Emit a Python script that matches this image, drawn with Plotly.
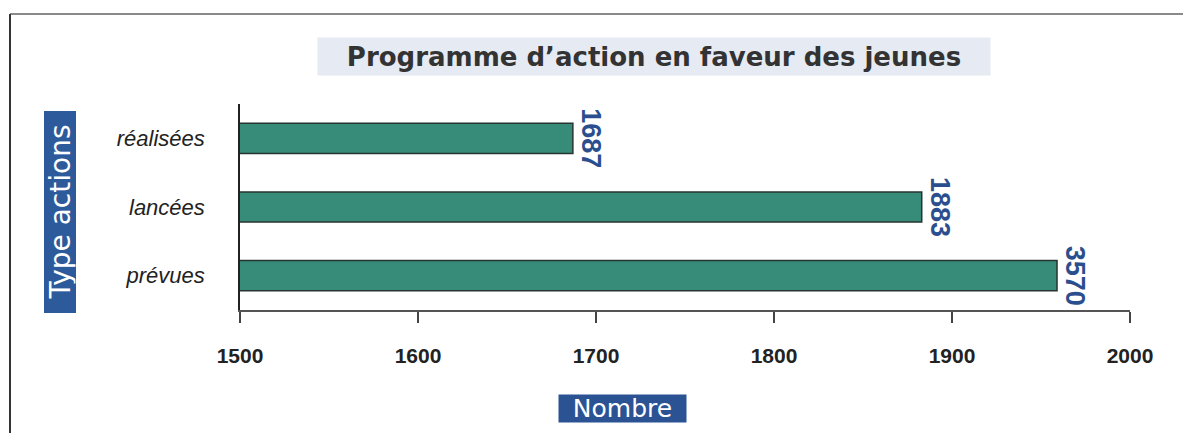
import plotly.graph_objects as go

categories = ["réalisées", "lancées", "prévues"]
bar_lengths = [1687, 1883, 1959]
value_labels = ["1687", "1883", "3570"]
x_ticks = [1500, 1600, 1700, 1800, 1900, 2000]

W, H = 1183, 433
L, R, T, B = 240, 53, 104, 123
pw, ph = W - L - R, H - T - B

def px_x(p):
    return (p - L) / pw

def px_y(p):
    return (H - B - p) / ph

fig = go.Figure()
fig.add_trace(go.Bar(
    y=categories, x=bar_lengths, orientation="h",
    base=0,
    marker=dict(color="#378b79", line=dict(color="#26352f", width=1.5)),
    text=value_labels, textposition="outside", textangle=90,
    constraintext="none", cliponaxis=False,
    textfont=dict(family="Liberation Sans, Arial", size=27, color="#2b4f8e", weight="bold"),
    width=0.44, showlegend=False, hoverinfo="skip",
))

fig.update_layout(
    width=W, height=H,
    margin=dict(l=L, r=R, t=T, b=B, autoexpand=False),
    paper_bgcolor="white", plot_bgcolor="white",
    xaxis=dict(range=[1500, 2000], tickvals=x_ticks, showgrid=False, zeroline=False,
               automargin=False,
               showline=True, linecolor="#555", linewidth=1.5,
               ticks="outside", ticklen=11, tickcolor="#444", tickwidth=1.5,
               tickfont=dict(family="Liberation Sans, Arial", size=21, color="#222", weight="bold"),
               ticklabelstandoff=15),
    yaxis=dict(autorange="reversed", showgrid=False, zeroline=False, automargin=False,
               showline=True, linecolor="#222", linewidth=1.5, ticks="",
               tickfont=dict(family="Liberation Sans, Arial", size=22, color="#222", style="italic"),
               ticklabelstandoff=29),
    shapes=[
        dict(type="line", xref="paper", yref="paper", x0=px_x(10), x1=px_x(W), y0=px_y(14), y1=px_y(14),
             line=dict(color="#8a8a8a", width=2)),
        dict(type="line", xref="paper", yref="paper", x0=px_x(10), x1=px_x(10), y0=px_y(14), y1=px_y(H),
             line=dict(color="#333", width=2)),
    ],
    annotations=[
        dict(text="<b>Programme d’action en faveur des jeunes</b>", xref="paper", yref="paper",
             x=px_x(654), y=px_y(56), showarrow=False, xanchor="center", yanchor="middle",
             bgcolor="#e6eaf3", width=672, height=37, borderpad=0,
             font=dict(family="DejaVu Sans", size=26, color="#333")),
        dict(text="Type actions", xref="paper", yref="paper",
             x=px_x(59.5), y=px_y(212), showarrow=False, xanchor="center", yanchor="middle",
             textangle=-90, bgcolor="#2d5a9b", width=201, height=31, borderpad=0,
             font=dict(family="DejaVu Sans", size=28, color="white")),
        dict(text="Nombre", xref="paper", yref="paper",
             x=px_x(622.5), y=px_y(408.5), showarrow=False, xanchor="center", yanchor="middle",
             bgcolor="#2b5394", width=127, height=27, borderpad=0,
             font=dict(family="DejaVu Sans", size=25, color="white")),
    ],
)

fig.write_html("out.html", config={"displayModeBar": False},
               post_script="document.body.style.margin='0';document.body.style.overflow='hidden';")
